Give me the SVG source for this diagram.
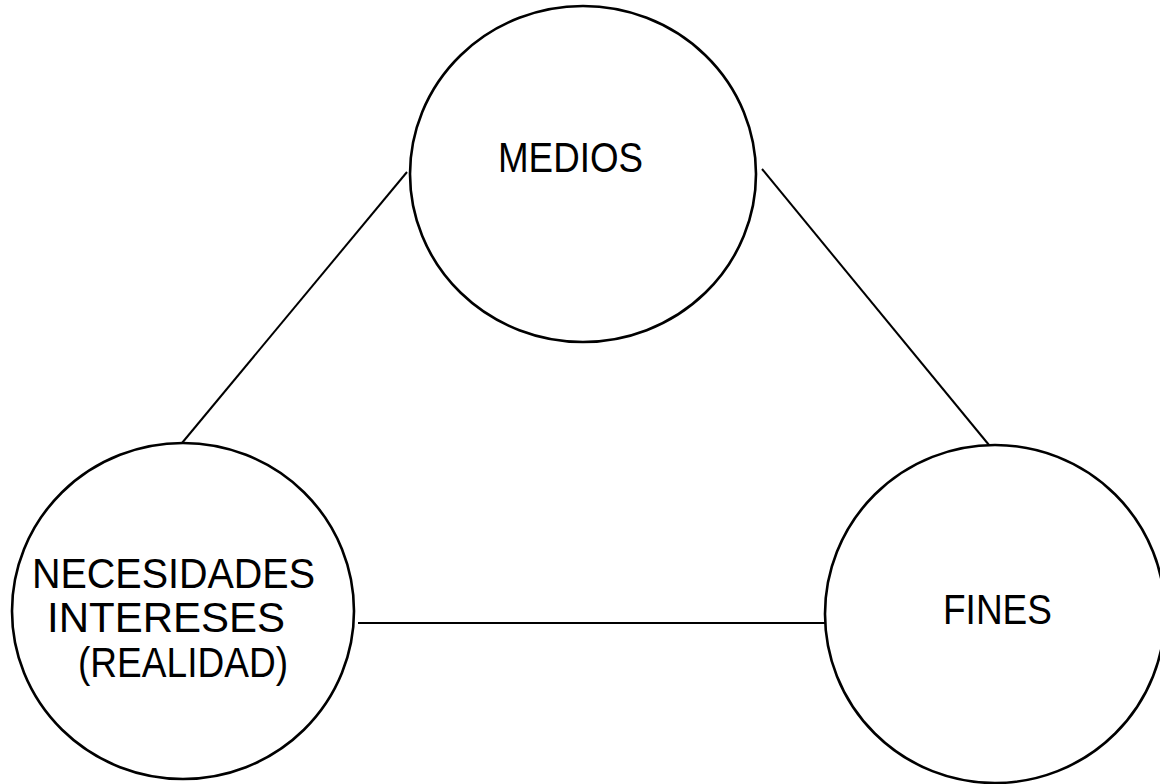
<svg xmlns="http://www.w3.org/2000/svg" width="1160" height="784" viewBox="0 0 1160 784">
  <style>
    .node { fill: #ffffff; stroke: #000000; stroke-width: 2.6; }
    .link { stroke: #000000; stroke-width: 2; fill: none; }
    .label { font-family: "Liberation Sans", Arial, Helvetica, sans-serif; font-size: 42px; fill: #000000; }
  </style>
  <rect width="1160" height="784" fill="#ffffff"/>

  <!-- connectors between the three circles -->
  <g id="connectors">
    <line class="link" x1="407" y1="172" x2="182" y2="443"/>
    <line class="link" x1="762" y1="169" x2="989" y2="445"/>
    <line class="link" x1="358" y1="623" x2="825" y2="623"/>
  </g>

  <g id="medios">
    <ellipse class="node" cx="583" cy="174" rx="173" ry="168"/>
    <text class="label" x="498" y="172" textLength="145" lengthAdjust="spacingAndGlyphs">MEDIOS</text>
  </g>

  <g id="necesidades">
    <ellipse class="node" cx="183" cy="611" rx="171" ry="168"/>
    <text class="label" x="32" y="588" textLength="283" lengthAdjust="spacingAndGlyphs">NECESIDADES</text>
    <text class="label" x="47" y="632" textLength="238" lengthAdjust="spacingAndGlyphs">INTERESES</text>
    <text class="label" x="78" y="677" textLength="210" lengthAdjust="spacingAndGlyphs">(REALIDAD)</text>
  </g>

  <g id="fines">
    <ellipse class="node" cx="995" cy="614" rx="170" ry="169"/>
    <text class="label" x="943" y="624" textLength="109" lengthAdjust="spacingAndGlyphs">FINES</text>
  </g>
</svg>
